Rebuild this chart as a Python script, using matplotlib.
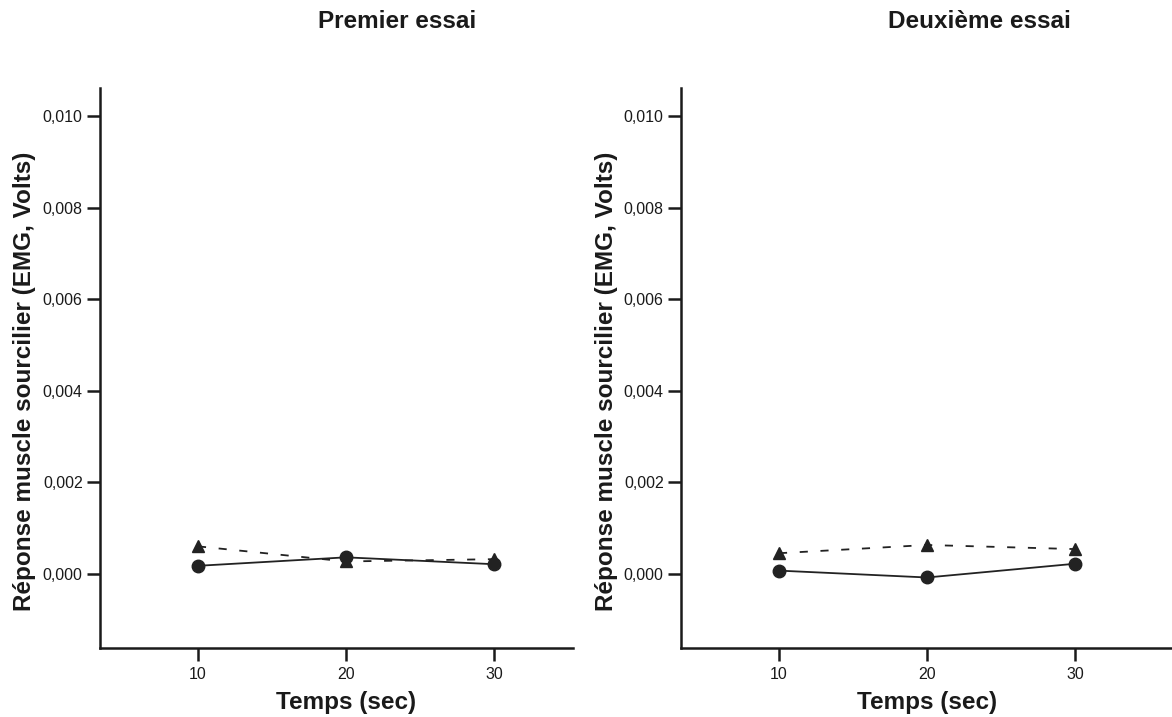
import numpy as np
import matplotlib.pyplot as plt
from matplotlib.ticker import FuncFormatter

plt.rcParams["font.family"] = ["Liberation Sans", "DejaVu Sans"]

temps = [10, 20, 30]
titres = ["Premier essai", "Deuxième essai"]

# réponse EMG moyenne (Volts) par condition
essai1_cercle = [0.000175, 0.00036, 0.00021]
essai1_triangle = [0.0006, 0.00027, 0.00032]
essai2_cercle = [0.00007, -0.00008, 0.00022]
essai2_triangle = [0.00045, 0.00063, 0.00054]

yticks = [0.000, 0.002, 0.004, 0.006, 0.008, 0.010]

fig = plt.figure(figsize=(11.72, 7.17), dpi=100)
W, H = 1172, 717
ax1 = fig.add_axes([100 / W, 1 - 648 / H, 473 / W, 560 / H])
ax2 = fig.add_axes([681 / W, 1 - 648 / H, 491 / W, 560 / H])

virgule = FuncFormatter(lambda v, p: f"{v:.3f}".replace(".", ","))
encre = "#1a1a1a"

panneaux = [
    (ax1, essai1_cercle, essai1_triangle, (3.38, 35.34)),
    (ax2, essai2_cercle, essai2_triangle, (3.38, 36.55)),
]
for ax, cercle, triangle, xl in panneaux:
    ax.plot(temps, triangle, color="#222222", lw=1.3, ls=(0, (4.5, 7)),
            marker="^", ms=9, mfc="#222222", mec="#222222", zorder=3)
    ax.plot(temps, cercle, color="#222222", lw=1.3,
            marker="o", ms=9, mfc="#222222", mec="#222222", zorder=4)
    ax.set_xlim(*xl)
    ax.set_ylim(-0.00162, 0.01061)
    ax.set_xticks(temps)
    ax.set_yticks(yticks)
    ax.yaxis.set_major_formatter(virgule)
    for s in ["top", "right"]:
        ax.spines[s].set_visible(False)
    for s in ["left", "bottom"]:
        ax.spines[s].set_linewidth(1.8)
        ax.spines[s].set_color(encre)
    ax.tick_params(axis="x", direction="out", length=9.5, width=1.8,
                   labelsize=11.5, pad=4, colors=encre)
    ax.tick_params(axis="y", direction="out", length=9.5, width=1.8,
                   labelsize=11.5, pad=3, colors=encre)

# titres et libellés d'axes
for x, t in [(397, titres[0]), (979, titres[1])]:
    fig.text(x / W, 1 - 22 / H, t, ha="center", va="center",
             fontsize=17.5, fontweight="bold", color=encre)
for x in [346, 927]:
    fig.text(x / W, 1 - 702 / H, "Temps (sec)", ha="center", va="center",
             fontsize=17.5, fontweight="bold", color=encre)
for x in [25, 606]:
    fig.text(x / W, 1 - 381 / H, "Réponse muscle sourcilier (EMG, Volts)",
             ha="center", va="center", rotation=90,
             fontsize=17.5, fontweight="bold", color=encre)

fig.savefig("out.png", dpi=100)
